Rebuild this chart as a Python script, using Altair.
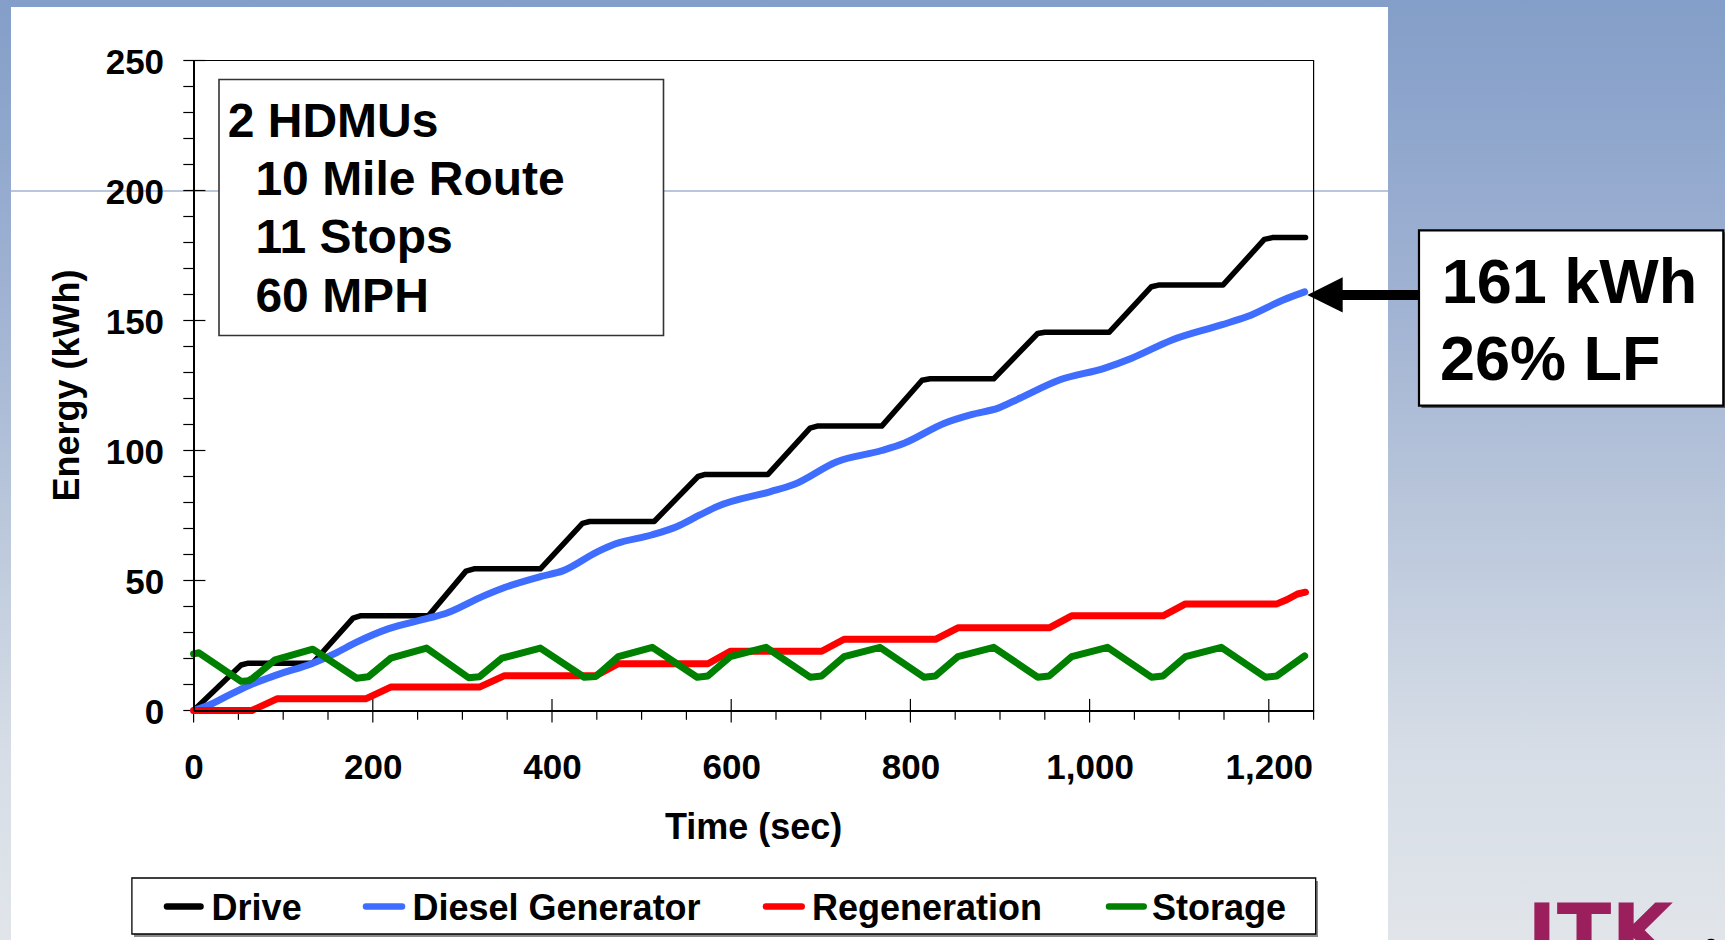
import altair as alt
import pandas as pd

FONT = "Liberation Sans"

# ---- cumulative energy by source: time (sec) and energy (kWh) ----
drive_t = [0, 53, 61, 133, 178, 186, 262, 304, 313, 387, 434, 442, 514, 563, 571, 641,
           688, 696, 768, 813, 822, 893, 942, 950, 1022, 1069, 1078, 1149, 1195, 1204, 1241]
drive_kwh = [0, 17.5, 18.2, 18.2, 35.5, 36.4, 36.4, 53.6, 54.5, 54.5, 72.0, 72.7, 72.7, 90.0, 90.8, 90.8,
             108.6, 109.4, 109.4, 127.0, 127.6, 127.6, 145.0, 145.5, 145.5, 163.0, 163.7, 163.7, 181.2, 181.9, 181.9]

diesel_t = [0, 18, 40, 63, 93, 133, 158, 182, 217, 262, 282, 322, 347, 387, 412, 451, 471, 511, 539,
            565, 584, 644, 669, 718, 768, 793, 838, 868, 898, 922, 967, 1017, 1047, 1092, 1147, 1176, 1216, 1240]
diesel_kwh = [0, 2.2, 6.0, 9.8, 13.7, 18.2, 22.0, 26.3, 31.4, 35.5, 37.4, 43.8, 47.3, 51.5, 53.7, 61.1, 64.1, 67.5, 70.7,
              75.2, 78.4, 84.2, 86.8, 95.7, 100.0, 102.8, 110.5, 113.8, 116.3, 120.1, 127.2, 131.7, 135.5, 142.5, 148.3,
              151.5, 157.9, 161.0]

regen_t = [0, 65, 93, 192, 220, 319, 347, 449, 474, 574, 599, 701, 726, 828, 853, 955, 980,
           1082, 1107, 1209, 1220, 1232, 1241]
regen_kwh = [0, 0, 4.5, 4.5, 9.0, 9.0, 13.4, 13.4, 18.0, 18.0, 22.8, 22.8, 27.4, 27.4, 31.8, 31.8, 36.4,
             36.4, 41.0, 41.0, 42.6, 44.8, 45.5]

storage_t = [0, 6, 53, 61, 66, 91, 133, 182, 195, 220, 260, 307, 319, 344, 387, 436, 449, 474, 512, 562, 574,
             599, 639, 688, 701, 726, 766, 815, 828, 853, 893, 942, 955, 980, 1020, 1069, 1082, 1107, 1147,
             1196, 1209, 1240]
storage_kwh = [21.8, 22.2, 11.2, 11.4, 12.4, 19.5, 23.6, 12.4, 13.0, 20.1, 24.0, 12.6, 13.0, 20.1, 24.0, 12.8,
               13.1, 20.7, 24.3, 12.8, 13.3, 20.7, 24.3, 12.8, 13.3, 20.7, 24.3, 12.8, 13.3, 20.7, 24.3, 12.8,
               13.3, 20.7, 24.3, 12.8, 13.3, 20.7, 24.3, 12.8, 13.3, 21.0]

series_names = ["Drive", "Diesel Generator", "Regeneration", "Storage"]
series_colors = ["#000000", "#3f6dff", "#ff0000", "#008000"]
series_widths = [5.5, 7, 7, 7]

# axis tick values
x_major = [0, 200, 400, 600, 800, 1000, 1200]
x_minor = [50, 100, 150, 250, 300, 350, 450, 500, 550, 650, 700, 750, 850, 900, 950,
           1050, 1100, 1150, 1250]
y_major = [0, 50, 100, 150, 200, 250]
y_minor = [10, 20, 30, 40, 60, 70, 80, 90, 110, 120, 130, 140, 160, 170, 180, 190,
           210, 220, 230, 240]

info_lines = ["2 HDMUs", "10 Mile Route", "11 Stops", "60 MPH"]
callout_lines = [f"{diesel_kwh[-1]:.0f} kWh", "26% LF"]
x_title = "Time (sec)"
y_title = "Energy (kWh)"

# ---- layout (canvas pixels) ----
PLOT_X0, PLOT_Y0 = 193.6, 60.5
PLOT_W, PLOT_H = 1120, 650
CANVAS_W, CANVAS_H = 1725, 940


def cx(x):
    return x - PLOT_X0


def cy(y):
    return y - PLOT_Y0


one = pd.DataFrame({"k": [0]})

x_scale = alt.Scale(domain=[0, 1250], nice=False, zero=False)
y_scale = alt.Scale(domain=[0, 250], nice=False, zero=False)

x_axis = alt.Axis(values=x_major, format=",.0f", labelFont=FONT, labelFontSize=35, labelFontWeight="bold",
                  labelColor="black", labelPadding=40, ticks=False, tickSize=0, domain=True,
                  domainColor="black", domainWidth=1.8, grid=False, title=None, labelFlush=False,
                  labelOverlap=False, zindex=1)
y_axis = alt.Axis(values=y_major, format=".0f", labelFont=FONT, labelFontSize=35, labelFontWeight="bold",
                  labelColor="black", labelPadding=30, labelOffset=2, ticks=False, tickSize=0, domain=True,
                  domainColor="black", domainWidth=1.8, grid=False, title=None, labelFlush=False,
                  labelOverlap=False, zindex=1)


def X(field):
    return alt.X(field, type="quantitative", scale=x_scale, axis=x_axis)


def Y(field):
    return alt.Y(field, type="quantitative", scale=y_scale, axis=y_axis)


def rect(x0, y0, x1, y1, **kw):
    return alt.Chart(one).mark_rect(**kw).encode(
        x=alt.value(cx(x0)), x2=alt.value(cx(x1)), y=alt.value(cy(y0)), y2=alt.value(cy(y1)))


def label(s, x, y, size, align="left", baseline="alphabetic", **kw):
    return alt.Chart(one).mark_text(text=s, font=FONT, fontSize=size, fontWeight="bold", align=align,
                                    baseline=baseline, **kw).encode(x=alt.value(cx(x)), y=alt.value(cy(y)))


layers = []

# slide background and white panel
grad = alt.LinearGradient(
    gradient="linear", x1=0, x2=0, y1=0, y2=1,
    stops=[alt.GradientStop(color="#839ec8", offset=0),
           alt.GradientStop(color="#9eb1d2", offset=0.3),
           alt.GradientStop(color="#bac7db", offset=0.55),
           alt.GradientStop(color="#d6dde6", offset=0.8),
           alt.GradientStop(color="#e1e5ea", offset=1)])
layers.append(rect(0, 0, CANVAS_W, CANVAS_H, color=grad))
layers.append(rect(11, 7, 1388, CANVAS_H + 5, color="white"))
layers.append(alt.Chart(one).mark_rule(color="#a3b3d0", strokeWidth=1.3).encode(
    x=alt.value(cx(11)), x2=alt.value(cx(1388)), y=alt.value(cy(191))))

# plot frame
layers.append(rect(PLOT_X0, PLOT_Y0, PLOT_X0 + PLOT_W, PLOT_Y0 + PLOT_H,
                   fillOpacity=0, stroke="black", strokeWidth=1.2))

# tick marks: majors cross the axis, minors sit outside
tick_style = dict(color="black", strokeWidth=1.2)
layers.append(alt.Chart(pd.DataFrame({"t": x_major})).mark_rule(**tick_style).encode(
    x=X("t"), y=alt.value(PLOT_H - 11.6), y2=alt.value(PLOT_H + 12)))
layers.append(alt.Chart(pd.DataFrame({"t": x_minor})).mark_rule(**tick_style).encode(
    x=X("t"), y=alt.value(PLOT_H), y2=alt.value(PLOT_H + 9.3)))
layers.append(alt.Chart(pd.DataFrame({"e": y_major})).mark_rule(**tick_style).encode(
    y=Y("e"), x=alt.value(-10.3), x2=alt.value(11.8)))
layers.append(alt.Chart(pd.DataFrame({"e": y_minor})).mark_rule(**tick_style).encode(
    y=Y("e"), x=alt.value(-10.3), x2=alt.value(0)))

# energy series
series_data = [(drive_t, drive_kwh), (diesel_t, diesel_kwh), (regen_t, regen_kwh), (storage_t, storage_kwh)]
for (ts, es), name, col, w in zip(series_data, series_names, series_colors, series_widths):
    df = pd.DataFrame({"t": ts, "e": es, "series": name})
    interp = "monotone" if name == "Diesel Generator" else "linear"
    layers.append(alt.Chart(df).mark_line(color=col, strokeWidth=w, strokeCap="round", strokeJoin="round",
                                          interpolate=interp).encode(x=X("t"), y=Y("e")))

# route description box
layers.append(rect(219, 79.5, 663.5, 335.5, color="white", stroke="#333333", strokeWidth=1.6))
info_x = [227.7, 255.4, 255.4, 255.4]
info_base = [136.7, 195.0, 253.0, 312.0]
for s, x, y in zip(info_lines, info_x, info_base):
    layers.append(label(s, x, y, 48))

# legend
layers.append(rect(134, 881, 1318, 937, color="#8a8a8a"))
layers.append(rect(131.9, 878, 1315.7, 934, color="white", stroke="black", strokeWidth=1.3))
sym_x = [(167, 200.5), (366, 402), (766, 801.7), (1109, 1143.7)]
text_x = [211.6, 412.5, 812, 1152]
for name, col, (s0, s1), tx in zip(series_names, series_colors, sym_x, text_x):
    layers.append(alt.Chart(one).mark_rule(color=col, strokeWidth=6.5, strokeCap="round").encode(
        x=alt.value(cx(s0)), x2=alt.value(cx(s1)), y=alt.value(cy(906.5))))
    layers.append(label(name, tx, 920, 36))

# axis titles
layers.append(label(x_title, PLOT_X0 + PLOT_W / 2, 839, 36, align="center"))
layers.append(label(y_title, 68, PLOT_Y0 + PLOT_H / 2, 36, align="center", baseline="middle", angle=270))

# callout pointing at the generator total
end_df = pd.DataFrame({"e": [diesel_kwh[-1]]})
layers.append(alt.Chart(end_df).mark_rule(color="black", strokeWidth=10, yOffset=3).encode(
    y=Y("e"), x=alt.value(cx(1338)), x2=alt.value(cx(1420))))
layers.append(alt.Chart(end_df).mark_point(shape="M -1 0 L 1 -1 L 1 1 Z", filled=True, size=1253,
                                           color="black", opacity=1, yOffset=3).encode(
    y=Y("e"), x=alt.value(cx(1325))))
layers.append(rect(1421.5, 232.5, 1725.5, 408, color="#555555"))
layers.append(rect(1419, 230.3, 1723.3, 405.7, color="white", stroke="black", strokeWidth=2.2))
layers.append(label(callout_lines[0], 1441.7, 303.3, 63))
layers.append(label(callout_lines[1], 1440, 380, 63))

# logo at the slide corner (runs off the bottom edge)
layers.append(alt.Chart(one).mark_text(text="ITK", font="DejaVu Sans", fontSize=80, fontWeight="bold",
                                       align="left", baseline="alphabetic", color="#9b1f5c").encode(
    x=alt.value(cx(1527)), y=alt.value(cy(961))))
layers.append(alt.Chart(one).mark_point(shape="circle", filled=True, size=160, color="black", opacity=1).encode(
    x=alt.value(cx(1711)), y=alt.value(cy(945))))

chart = alt.layer(*layers).properties(
    width=PLOT_W, height=PLOT_H,
    padding={"left": PLOT_X0, "top": PLOT_Y0,
             "right": CANVAS_W - PLOT_X0 - PLOT_W, "bottom": CANVAS_H - PLOT_Y0 - PLOT_H},
    autosize=alt.AutoSizeParams(type="none"),
    background="white",
).configure_view(stroke="transparent")

chart.save("out.html", embed_options={"renderer": "svg", "actions": False})
